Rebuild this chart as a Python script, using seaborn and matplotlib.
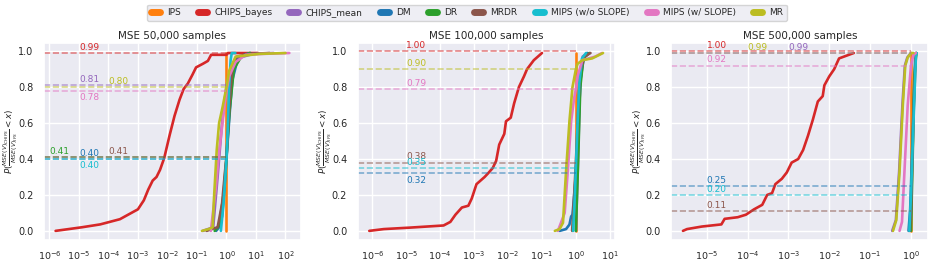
import matplotlib
matplotlib.use("Agg")
import matplotlib.pyplot as plt
from matplotlib.ticker import LogLocator, NullLocator
import seaborn as sns
import numpy as np

sns.set_theme(style="darkgrid")
plt.rcParams['font.family'] = ['DejaVu Sans']

methods = ['IPS', 'CHIPS_bayes', 'CHIPS_mean', 'DM', 'DR', 'MRDR',
           'MIPS (w/o SLOPE)', 'MIPS (w/ SLOPE)', 'MR']
colors = dict(zip(methods, ['#ff7f0e', '#d62728', '#9467bd', '#1f77b4', '#2ca02c',
                            '#8c564b', '#17becf', '#e377c2', '#bcbd22']))

titles = ['MSE 50,000 samples', 'MSE 100,000 samples', 'MSE 500,000 samples']

# curves: method -> (log10 of MSE ratio, cumulative share)
curves_50k = {
    'IPS': ([0, 0], [0, 0.99]),
    'CHIPS_bayes': ([-5.79, -4.9, -4.28, -3.61, -3.0, -2.8, -2.65, -2.5, -2.37, -2.25, -2.11, -1.93,
                     -1.76, -1.59, -1.45, -1.31, -1.15, -1.03, -0.8, -0.63, -0.52, 0.0, 0.05, 1.07],
                    [0, 0.02, 0.036, 0.065, 0.12, 0.17, 0.23, 0.28, 0.30, 0.34, 0.405, 0.53,
                     0.64, 0.73, 0.79, 0.82, 0.87, 0.91, 0.93, 0.946, 0.98, 0.98, 0.99, 0.99]),
    'CHIPS_mean': ([-0.8, -0.45, -0.3, -0.15, 0.0, 0.15, 0.35, 0.9, 1.6],
                   [0, 0.02, 0.3, 0.6, 0.81, 0.9, 0.96, 0.985, 0.99]),
    'DM': ([-0.35, -0.25, -0.15, -0.05, 0.0, 0.05, 0.12, 0.2, 0.37, 0.6, 0.8],
           [0, 0.02, 0.08, 0.28, 0.40, 0.52, 0.68, 0.84, 0.95, 0.98, 0.99]),
    'DR': ([-0.4, -0.25, -0.1, 0.0, 0.1, 0.25, 0.5, 0.8],
           [0, 0.03, 0.2, 0.41, 0.66, 0.9, 0.97, 0.99]),
    'MRDR': ([-0.67, -0.5, -0.3, -0.15, -0.05, 0.0, 0.1, 0.2, 0.35, 0.8, 1.46],
             [0, 0.01, 0.02, 0.15, 0.33, 0.41, 0.7, 0.92, 0.97, 0.985, 0.99]),
    'MIPS (w/o SLOPE)': ([-0.19, -0.1, -0.04, 0.0, 0.04, 0.09, 0.14, 0.18, 0.3],
                         [0, 0.15, 0.3, 0.40, 0.55, 0.8, 0.95, 0.99, 0.99]),
    'MIPS (w/ SLOPE)': ([-0.53, -0.36, -0.25, -0.15, -0.08, 0.0, 0.09, 0.31, 0.65, 1.2, 2.13],
                        [0, 0.24, 0.44, 0.58, 0.68, 0.78, 0.86, 0.94, 0.98, 0.985, 0.99]),
    'MR': ([-0.83, -0.6, -0.47, -0.42, -0.33, -0.25, -0.13, 0.0, 0.09, 0.31, 1.1, 2.0],
           [0, 0.01, 0.02, 0.19, 0.45, 0.60, 0.69, 0.80, 0.89, 0.97, 0.985, 0.99]),
}

curves_100k = {
    'IPS': ([0, 0], [0, 0.99]),
    'CHIPS_bayes': ([-6.09, -5.66, -4.9, -3.9, -3.7, -3.55, -3.36, -3.17, -3.07, -2.93, -2.69, -2.59,
                     -2.45, -2.35, -2.26, -2.11, -2.06, -1.92, -1.82, -1.68, -1.53, -1.44, -1.24, -1.0],
                    [0, 0.01, 0.018, 0.03, 0.05, 0.09, 0.13, 0.14, 0.18, 0.26, 0.30, 0.32,
                     0.35, 0.39, 0.48, 0.54, 0.61, 0.63, 0.71, 0.80, 0.86, 0.90, 0.95, 0.99]),
    'CHIPS_mean': ([0.0, 0.05, 0.12, 0.2, 0.35], [0, 0.3, 0.8, 0.97, 0.99]),
    'DM': ([-0.48, -0.29, -0.19, -0.14, -0.1, -0.05, 0.0, 0.05, 0.14, 0.24, 0.33],
           [0, 0.01, 0.035, 0.08, 0.09, 0.2, 0.32, 0.5, 0.85, 0.97, 0.99]),
    'DR': ([0.0, 0.06, 0.13, 0.22, 0.4], [0, 0.35, 0.8, 0.96, 0.99]),
    'MRDR': ([-0.11, -0.05, 0.0, 0.05, 0.12, 0.25, 0.43], [0, 0.2, 0.38, 0.6, 0.88, 0.97, 0.99]),
    'MIPS (w/o SLOPE)': ([-0.08, -0.03, 0.0, 0.05, 0.1, 0.18, 0.3], [0, 0.2, 0.35, 0.6, 0.82, 0.96, 0.99]),
    'MIPS (w/ SLOPE)': ([-0.53, -0.33, -0.24, -0.14, -0.05, 0.0, 0.05, 0.19, 0.57, 0.77],
                        [0, 0.1, 0.33, 0.61, 0.74, 0.79, 0.86, 0.95, 0.97, 0.99]),
    'MR': ([-0.62, -0.48, -0.38, -0.29, -0.19, -0.1, -0.02, 0.0, 0.05, 0.19, 0.48, 0.8],
           [0, 0.01, 0.045, 0.33, 0.61, 0.80, 0.88, 0.90, 0.93, 0.95, 0.96, 0.99]),
}

curves_500k = {
    'IPS': ([0, 0], [0, 0.99]),
    'CHIPS_bayes': ([-5.58, -5.48, -5.12, -4.64, -4.56, -4.24, -4.04, -3.84, -3.64, -3.52, -3.4, -3.32, -3.16,
                     -3.04, -2.92, -2.76, -2.64, -2.52, -2.4, -2.28, -2.16, -2.12, -2.0, -1.88, -1.76, -1.4],
                    [0, 0.01, 0.024, 0.036, 0.067, 0.076, 0.09, 0.12, 0.145, 0.20, 0.21, 0.26, 0.29,
                     0.325, 0.38, 0.40, 0.45, 0.53, 0.62, 0.72, 0.75, 0.81, 0.86, 0.90, 0.96, 0.99]),
    'CHIPS_mean': ([-0.46, -0.37, -0.29, -0.21, -0.15, -0.09, -0.02, 0.0],
                   [0, 0.06, 0.33, 0.70, 0.92, 0.965, 0.985, 0.99]),
    'DM': ([-0.06, -0.02, 0.0, 0.05, 0.1, 0.13], [0, 0.12, 0.25, 0.6, 0.95, 0.99]),
    'DR': ([0.0, 0.04, 0.08, 0.13], [0, 0.4, 0.85, 0.99]),
    'MRDR': ([-0.03, 0.0, 0.04, 0.07, 0.12], [0, 0.11, 0.45, 0.7, 0.99]),
    'MIPS (w/o SLOPE)': ([-0.04, 0.0, 0.06, 0.12, 0.14], [0, 0.2, 0.6, 0.97, 0.99]),
    'MIPS (w/ SLOPE)': ([-0.28, -0.22, -0.16, -0.08, 0.0, 0.06, 0.12], [0, 0.05, 0.33, 0.70, 0.92, 0.98, 0.99]),
    'MR': ([-0.44, -0.36, -0.28, -0.2, -0.14, -0.08, 0.0, 0.06], [0, 0.06, 0.33, 0.70, 0.92, 0.965, 0.99, 0.99]),
}

# share of runs with ratio < 1, as printed on the chart
p_below_50k = {'CHIPS_bayes': 0.99, 'CHIPS_mean': 0.81, 'MR': 0.80, 'MIPS (w/ SLOPE)': 0.78,
               'DR': 0.41, 'DM': 0.40, 'MRDR': 0.41, 'MIPS (w/o SLOPE)': 0.40}
p_below_100k = {'CHIPS_bayes': 1.00, 'MR': 0.90, 'MIPS (w/ SLOPE)': 0.79,
                'MRDR': 0.38, 'MIPS (w/o SLOPE)': 0.35, 'DM': 0.32}
p_below_500k = {'CHIPS_bayes': 1.00, 'MR': 0.99, 'CHIPS_mean': 0.99, 'MIPS (w/ SLOPE)': 0.92,
                'DM': 0.25, 'MIPS (w/o SLOPE)': 0.20, 'MRDR': 0.11}

# where each value label goes: (log10 x, above/below the line)
label_pos = [
    {'CHIPS_bayes': (-5, 1), 'CHIPS_mean': (-5, 1), 'MR': (-4, 1), 'MIPS (w/ SLOPE)': (-5, -1),
     'DR': (-6, 1), 'DM': (-5, 1), 'MRDR': (-4, 1), 'MIPS (w/o SLOPE)': (-5, -1)},
    {'CHIPS_bayes': (-5, 1), 'MR': (-5, 1), 'MIPS (w/ SLOPE)': (-5, 1),
     'MRDR': (-5, 1), 'MIPS (w/o SLOPE)': (-5, 1), 'DM': (-5, -1)},
    {'CHIPS_bayes': (-5, 1), 'MR': (-4, 1), 'CHIPS_mean': (-3, 1), 'MIPS (w/ SLOPE)': (-5, 1),
     'DM': (-5, 1), 'MIPS (w/o SLOPE)': (-5, 1), 'MRDR': (-5, 1)},
]

fig, axes = plt.subplots(1, 3, figsize=(9.34, 2.63), dpi=100)
fig.subplots_adjust(left=0.047, right=0.994, top=0.836, bottom=0.088, wspace=0.22)

panels = [(curves_50k, p_below_50k), (curves_100k, p_below_100k), (curves_500k, p_below_500k)]
handles = {}
for i, (ax, (curves, p_below)) in enumerate(zip(axes, panels)):
    ax.set_xscale('log')
    for m in methods:
        lx, cy = curves[m]
        sns.lineplot(x=10 ** np.array(lx, dtype=float), y=cy, sort=False, estimator=None,
                     color=colors[m], lw=1.9, ax=ax, label=m, legend=False)
        handles[m] = ax.lines[-1]
    xlo, xhi = ax.get_xlim()
    for m, p in p_below.items():
        ax.hlines(p, xlo, 1.0, colors=colors[m], linestyles='--', lw=1.2, alpha=0.55)
        lx, side = label_pos[i][m]
        ax.text(10.0 ** lx, p + (0.008 if side > 0 else -0.012), f"{p:.2f}", color=colors[m],
                fontsize=6.5, ha='left', va='bottom' if side > 0 else 'top')
    ax.set_xlim(xlo, xhi)
    ax.xaxis.set_major_locator(LogLocator(base=10, numticks=30))
    ax.xaxis.set_minor_locator(NullLocator())
    ax.set_ylim(-0.05, 1.045)
    ax.set_yticks([0, 0.2, 0.4, 0.6, 0.8, 1.0])
    ax.tick_params(axis='y', labelsize=7, pad=1.5)
    ax.tick_params(axis='x', labelsize=6.8, pad=1)
    ax.set_title(titles[i], fontsize=7.5, pad=3)
    ax.set_ylabel(r'$P(\frac{MSE(V)_{CHIPS}}{MSE(V)_{IPS}} < x)$', fontsize=6.3)
    ax.yaxis.set_label_coords(-0.092, 0.5)

leg = fig.legend([handles[m] for m in methods], methods, loc='upper center',
                 bbox_to_anchor=(0.5, 1.0), ncol=9, fontsize=6.5, frameon=True, fancybox=True,
                 handlelength=1.0, columnspacing=1.9, borderpad=0.4)
for line in leg.get_lines():
    line.set_linewidth(5)
    line.set_solid_capstyle('round')

fig.savefig('out.png', dpi=100)
